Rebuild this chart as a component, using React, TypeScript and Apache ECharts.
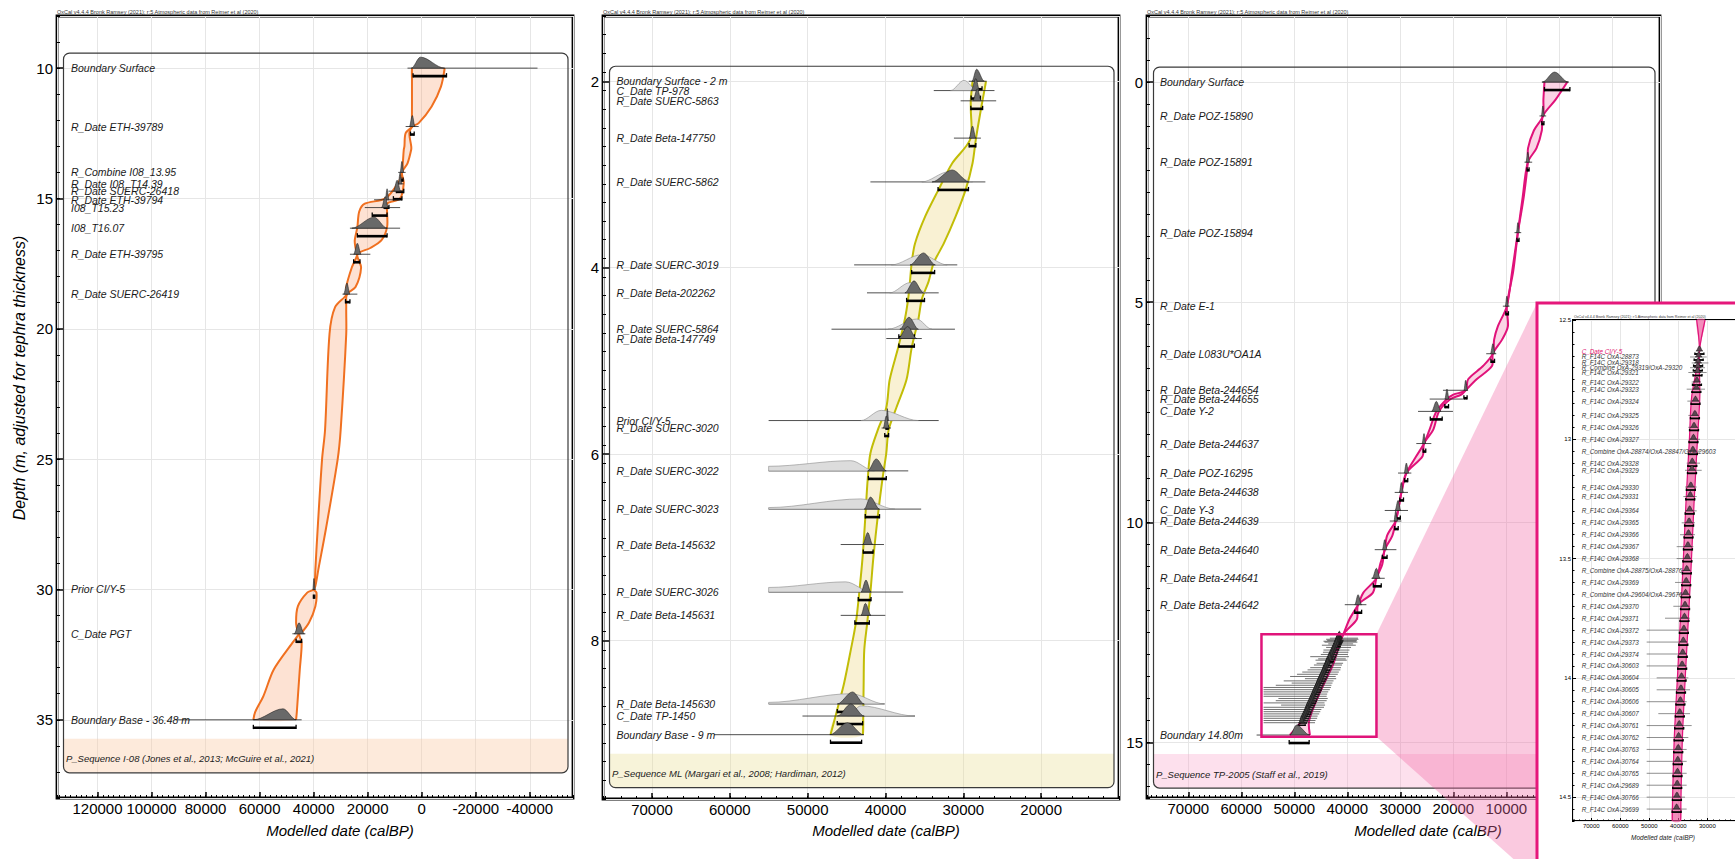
import React, { useEffect, useRef } from "react";
import * as echarts from "echarts";

const FONT = "'Liberation Sans', Arial, Helvetica, sans-serif";
const HEADER = "OxCal v4.4.4 Bronk Ramsey (2021); r:5 Atmospheric data from Reimer et al (2020)";
const X_TITLE = "Modelled date (calBP)";
const Y_TITLE = "Depth (m, adjusted for tephra thickness)";
const SEQ_NAMES = [
  "P_Sequence I-08 (Jones et al., 2013; McGuire et al., 2021)",
  "P_Sequence ML (Margari et al., 2008; Hardiman, 2012)",
  "P_Sequence TP-2005 (Staff et al., 2019)",
];

// ---------- axis ranges / tick steps ----------
const P1_X = [-56000, 135000];
const P1_Y = [8, 38];
const P2_X = [10000, 76300];
const P2_Y = [1.3, 9.7];
const P3_X = [-19000, 77800];
const P3_Y = [-1.5, 16.26];
const IN_X = [20000, 76300];
const IN_Y = [12.5, 14.6];
const MAJOR_X = [20000, 10000, 10000, 10000];
const MINOR_X = [2000, 2000, 1000, 2000];
const MAJOR_Y = [5, 2, 5, 0.5];
const MINOR_Y = [1, 0.2, 0.5, 0.05];

// ---------- panel 1 : I-08 ----------
const P1_LABELS = ["Boundary Surface", "R_Date ETH-39789", "R_Combine I08_13.95", "R_Date I08_T14.39", "R_Date SUERC-26418", "R_Date ETH-39794", "I08_T15.23", "I08_T16.07", "R_Date ETH-39795", "R_Date SUERC-26419", "Prior CI/Y-5", "C_Date PGT", "Boundary Base - 36.48 m"];
const P1_DEPTHS = [10.0, 12.24, 14.0, 14.44, 14.72, 15.05, 15.35, 16.14, 17.14, 18.67, 30.0, 31.7, 35.0];
const P1_MODE = [444, 3470, 7320, 8000, 9100, 12820, 13500, 17630, 23820, 27670, 39900, 45410, 51320];
const P1_LO = [3882, 4570, 8000, 8700, 10480, 13500, 14880, 25880, 25200, 28910, 40320, 47200, 62320];
const P1_HI = [-8493, 2500, 6640, 7320, 7800, 12130, 12400, 12820, 22440, 26570, 39360, 43480, 46500];
const P1_LINE_LO = [5257, 5945, 8700, 9380, 12300, 17640, 21070, 26570, 26570, 29320, 40320, 47880, 90500];
const P1_LINE_HI = [-42860, 1125, 5945, 6640, 6640, 8000, 8000, 8000, 19010, 23820, 39360, 43070, 44440];
const P1_RANGE_LO = [3200, 4150, 7700, 9380, 10480, 13900, 18320, 23820, 25200, 28220, 40100, 46500, 62320];
const P1_RANGE_HI = [-9180, 2780, 6900, 6640, 7320, 12130, 12820, 12820, 22850, 26570, 39600, 44440, 46500];
const P1_ENV_DEPTH = [10.0, 10.71, 11.47, 12.11, 12.24, 12.49, 13.0, 13.13, 13.65, 14.0, 14.4, 15.0, 15.2, 15.5, 16.1, 16.6, 16.9, 17.14, 17.65, 18.4, 18.67, 19.17, 20.2, 23.88, 25.0, 27.7, 29.23, 29.87, 30.0, 30.12, 30.64, 31.27, 31.65, 31.7, 32.05, 33.07, 34.09, 34.7, 35.0];
const P1_ENV_OLD = [3607, 3607, 3607, 3607, 3470, 5945, 6400, 6640, 7000, 7320, 8700, 13500, 21070, 23130, 23820, 24780, 24500, 23820, 25880, 27940, 27670, 32070, 34130, 35780, 36880, 38530, 39360, 39630, 39900, 42380, 45820, 46510, 45820, 45410, 47880, 54760, 58600, 61630, 62320];
const P1_ENV_YOUNG = [-8493, -7118, -3680, 1132, 3470, 4570, 3880, 3900, 5257, 7320, 6640, 8000, 12820, 12820, 12820, 14880, 19010, 23820, 22440, 24500, 27670, 27940, 27940, 30000, 31100, 35500, 38250, 39360, 39900, 38950, 39360, 41700, 44440, 45410, 44440, 45130, 45820, 46230, 46510];

// ---------- panel 2 : ML ----------
const P2_LABELS = ["Boundary Surface - 2 m", "C_Date TP-978", "R_Date SUERC-5863", "R_Date Beta-147750", "R_Date SUERC-5862", "R_Date SUERC-3019", "R_Date Beta-202262", "R_Date SUERC-5864", "R_Date Beta-147749", "Prior CI/Y-5", "R_Date SUERC-3020", "R_Date SUERC-3022", "R_Date SUERC-3023", "R_Date Beta-145632", "R_Date SUERC-3026", "R_Date Beta-145631", "R_Date Beta-145630", "C_Date TP-1450", "Boundary Base - 9 m"];
const P2_DEPTHS = [2.0, 2.1, 2.21, 2.61, 3.08, 3.97, 4.27, 4.66, 4.76, 5.64, 5.72, 6.18, 6.59, 6.97, 7.48, 7.73, 8.68, 8.81, 9.01];
const P2_MODE = [28300, 28400, 28200, 28820, 31430, 35120, 36340, 36990, 37160, 39770, 39900, 41200, 41940, 42290, 42510, 42590, 44240, 44460, 44890];
const P2_LO = [28900, 29000, 28800, 29260, 34030, 36860, 37510, 38160, 38380, 39900, 40300, 42290, 42730, 42940, 43160, 43160, 46200, 46200, 47150];
const P2_HI = [27300, 27900, 27700, 28390, 29260, 33600, 35120, 35770, 35990, 39600, 39500, 39900, 40770, 41640, 41860, 41860, 42730, 42730, 42810];
const P2_LINE_LO = [29300, 33800, 30350, 31210, 41940, 44030, 42380, 46940, 39900, 55020, 40500, 55020, 55020, 45760, 55020, 45760, 55020, 50670, 62050];
const P2_LINE_HI = [27000, 26000, 25780, 27740, 27170, 30780, 33170, 31080, 35340, 33170, 39300, 37080, 35420, 40200, 37730, 40030, 40120, 36210, 42810];
const P2_RANGE_LO = [29000, 29000, 29040, 29260, 33250, 36640, 37290, 38290, 38290, 39950, 40100, 42200, 42600, 42860, 43500, 43940, 46200, 46200, 47070];
const P2_RANGE_HI = [27600, 27800, 27520, 28390, 29340, 33690, 34990, 36290, 36290, 39650, 39600, 39900, 40770, 41600, 41860, 42080, 42940, 42940, 43070];
const P2_PRIOR_LO = [null, 31650, null, null, 35340, 39250, 39460, 39680, null, 43160, null, 55020, 55020, null, 55020, null, 55020, 44890, null];
const P2_PRIOR_PEAK = [null, 29910, null, null, 31860, 35340, 36860, 35990, null, 40550, null, 44460, 43160, null, 45110, null, 44460, 43160, null];
const P2_PRIOR_HI = [null, 28170, null, null, 28820, 32080, 34690, 34040, null, 35770, null, 41420, 38810, null, 41860, null, 40120, 36210, null];
const P2_PRIOR_EDGE = [0, 0, 0, 0, 0, 0, 0, 0, 0, 0, 0, 0.45, 0.15, 0, 0.45, 0, 0.15, 0, 0];
const P2_ENV_DEPTH = [2.0, 2.2, 2.3, 2.62, 2.88, 3.16, 3.45, 3.74, 3.95, 4.15, 4.34, 4.55, 4.86, 5.2, 5.5, 5.74, 5.99, 6.27, 6.67, 7.1, 7.49, 7.81, 8.1, 8.46, 8.74, 9.01];
const P2_ENV_OLD = [28820, 29040, 29040, 29100, 31430, 33170, 34900, 36210, 36640, 36860, 37100, 37510, 38380, 39460, 39900, 40990, 41940, 42290, 42590, 42940, 43380, 43810, 44460, 45330, 46200, 47070];
const P2_ENV_YOUNG = [27090, 27520, 27740, 28390, 28820, 29690, 30990, 32510, 33820, 34470, 35340, 35770, 36640, 37300, 38600, 39595, 39900, 40400, 41000, 41550, 41950, 42350, 42730, 42810, 42850, 42900];

// ---------- panel 3 : TP-2005 ----------
const P3_LABELS = ["Boundary Surface", "R_Date POZ-15890", "R_Date POZ-15891", "R_Date POZ-15894", "R_Date E-1", "R_Date L083U*OA1A", "R_Date Beta-244654", "R_Date Beta-244655", "C_Date Y-2", "R_Date Beta-244637", "R_Date POZ-16295", "R_Date Beta-244638", "C_Date Y-3", "R_Date Beta-244639", "R_Date Beta-244640", "R_Date Beta-244641", "R_Date Beta-244642", "Boundary 14.80m"];
const P3_DEPTHS = [0, 0.77, 1.82, 3.42, 5.09, 6.17, 7.0, 7.2, 7.48, 8.21, 8.88, 9.32, 9.73, 9.97, 10.62, 11.27, 11.87, 14.83];
const P3_MODE = [900, 3100, 5940, 7820, 9900, 12530, 17680, 21200, 23200, 25530, 28860, 29800, 30430, 30870, 32940, 34510, 37970, 49580];
const P3_LO = [3200, 3400, 6300, 8100, 10200, 13000, 18000, 21600, 24100, 25900, 29300, 30200, 31000, 31200, 33400, 35300, 38600, 50840];
const P3_HI = [-1700, 2800, 5600, 7500, 9600, 12100, 17300, 20800, 22300, 25200, 28400, 29400, 29900, 30500, 32500, 33800, 37300, 47070];
const P3_LINE_LO = [3300, 3740, 6570, 8450, 10650, 13790, 21950, 24460, 26660, 26980, 30430, 31060, 32940, 32000, 34830, 35450, 40480, 57120];
const P3_LINE_HI = [-1800, 2480, 5120, 7190, 9390, 11900, 17240, 18180, 20070, 24150, 27920, 28550, 28550, 29800, 30740, 32940, 36400, 47070];
const P3_RANGE_LO = [2800, 3300, 6100, 8000, 10100, 12900, 18000, 21600, 24350, 25700, 29200, 30100, 30900, 31050, 33400, 35100, 38600, 50970];
const P3_RANGE_HI = [-2000, 2900, 5700, 7600, 9600, 12220, 17400, 20900, 22100, 25200, 28600, 29400, 30000, 30400, 32500, 33600, 37300, 47200];
const P3_ENV_DEPTH = [0, 0.4, 0.77, 1.1, 1.5, 1.82, 2.6, 3.42, 4.3, 5.09, 5.55, 5.85, 6.17, 6.45, 6.75, 7.0, 7.1, 7.2, 7.48, 7.9, 8.21, 8.5, 8.88, 9.32, 9.73, 9.97, 10.3, 10.62, 10.95, 11.27, 11.6, 11.87, 12.2, 12.55, 13.2, 13.9, 14.5, 14.83];
const P3_ENV_OLD = [2800, 3000, 3100, 4800, 5900, 5940, 6700, 7820, 8900, 9900, 11600, 12300, 12530, 14400, 17200, 17680, 20000, 21200, 23200, 24500, 25530, 27000, 28860, 29800, 30430, 30870, 32500, 32940, 33800, 34510, 37000, 37970, 39600, 40790, 43500, 46200, 48600, 50840];
const P3_ENV_YOUNG = [-1500, 700, 3100, 3300, 4300, 5940, 6900, 7820, 8700, 9900, 9700, 10800, 12530, 12700, 15600, 17680, 18500, 20500, 22700, 23800, 25530, 25800, 28860, 29800, 30430, 30870, 31500, 32940, 33400, 34510, 35200, 37970, 38200, 40790, 42600, 45300, 47200, 47070];
const P3_ZOOM_X = [56200, 34500];
const P3_ZOOM_Y = [12.54, 14.87];

// ---------- inset : F14C dates (shared depths with panel 3 cluster) ----------
const INSET_LABELS = ["C_Date CI/Y-5", "R_F14C OxA-28873", "R_F14C OxA-29318", "R_Combine OxA-29319/OxA-29320", "R_F14C OxA-29321", "R_F14C OxA-29322", "R_F14C OxA-29323", "R_F14C OxA-29324", "R_F14C OxA-29325", "R_F14C OxA-29326", "R_F14C OxA-29327", "R_Combine OxA-28874/OxA-28847/OxA-29603", "R_F14C OxA-29328", "R_F14C OxA-29329", "R_F14C OxA-29330", "R_F14C OxA-29331", "R_F14C OxA-29364", "R_F14C OxA-29365", "R_F14C OxA-29366", "R_F14C OxA-29367", "R_F14C OxA-29368", "R_Combine OxA-28875/OxA-28876", "R_F14C OxA-29369", "R_Combine OxA-29604/OxA-29676", "R_F14C OxA-29370", "R_F14C OxA-29371", "R_F14C OxA-29372", "R_F14C OxA-29373", "R_F14C OxA-29374", "R_F14C OxA-30603", "R_F14C OxA-30604", "R_F14C OxA-30605", "R_F14C OxA-30606", "R_F14C OxA-30607", "R_F14C OxA-30761", "R_F14C OxA-30762", "R_F14C OxA-30763", "R_F14C OxA-30764", "R_F14C OxA-30765", "R_F14C OxA-29689", "R_F14C OxA-30766", "R_F14C OxA-29699"];
const INSET_DEPTHS = [12.63, 12.655, 12.68, 12.7, 12.72, 12.76, 12.79, 12.84, 12.9, 12.95, 13.0, 13.05, 13.1, 13.13, 13.2, 13.24, 13.3, 13.35, 13.4, 13.45, 13.5, 13.55, 13.6, 13.65, 13.7, 13.75, 13.8, 13.85, 13.9, 13.95, 14.0, 14.05, 14.1, 14.15, 14.2, 14.25, 14.3, 14.35, 14.4, 14.45, 14.5, 14.55];
const INSET_MODE = [32750, 33000, 33200, 33300, 33400, 33600, 33800, 34100, 34300, 34600, 34800, 35000, 35200, 35300, 35700, 35900, 36100, 36300, 36500, 36700, 36900, 37100, 37300, 37500, 37700, 37900, 38100, 38300, 38500, 38700, 38900, 39100, 39300, 39500, 39700, 39900, 40050, 40200, 40300, 40400, 40500, 40600];
const INSET_LINE_LO = [33400, 35980, 35410, 35980, 36560, 35410, 37130, 36900, 36560, 36560, 36210, 37130, 37130, 37700, 37700, 38280, 37700, 38850, 39430, 40580, 40580, 38850, 41150, 40580, 41730, 44600, 50920, 50920, 50920, 50920, 47470, 47470, 50920, 46900, 50920, 50920, 50920, 50920, 50920, 50920, 50920, 50920];
const INSET_LINE_HI = [32100, 30240, 29660, 30810, 30240, 33110, 30810, 32540, 33110, 33110, 32540, 32300, 32540, 31960, 33680, 33680, 33680, 34260, 34260, 34830, 35980, 35980, 35980, 35980, 35980, 35980, 36560, 37130, 37130, 37130, 36560, 35980, 37130, 35980, 35410, 36560, 37130, 37130, 37130, 37130, 37700, 37130];
const INSET_ENV_DEPTH = [12.5, 12.63, 12.82, 13.0, 13.27, 13.56, 13.97, 14.25, 14.51, 14.6];
const INSET_ENV_OLD = [33700, 32800, 35400, 36200, 37400, 38500, 40200, 41400, 42000, 42100];
const INSET_ENV_YOUNG = [30800, 32700, 32600, 33400, 34600, 35700, 37500, 38600, 39100, 39200];
// the same dates as they appear (compressed) inside panel 3's zoom box
const P3C_MODE = [41500, 41600, 41700, 41800, 41900, 42000, 42100, 42300, 42500, 42700, 42900, 43100, 43300, 43400, 43700, 43800, 44000, 44200, 44400, 44500, 44700, 44900, 45100, 45300, 45500, 45600, 45800, 46000, 46200, 46400, 46500, 46700, 46900, 47100, 47300, 47500, 47600, 47800, 48000, 48200, 48400, 48600];
const P3C_LINE_LO = [43300, 44000, 43800, 44500, 44300, 43600, 44800, 44000, 44500, 44600, 45000, 47000, 45500, 46000, 45800, 46300, 47000, 47500, 48500, 49500, 50800, 48000, 52000, 50500, 53500, 55800, 55800, 55800, 55800, 55800, 53000, 53500, 55800, 52500, 55800, 55800, 55800, 55800, 55800, 55800, 55800, 55800];
const P3C_LINE_HI = [38000, 37900, 38200, 38300, 38100, 38900, 38400, 39300, 39600, 39800, 39900, 39700, 40300, 40100, 40800, 41000, 41200, 41300, 41600, 41800, 42200, 42100, 42600, 42800, 43000, 43100, 43300, 43600, 43800, 43900, 43700, 43900, 44300, 44200, 44400, 44900, 45100, 45300, 45600, 45700, 46000, 46100];

// ---------- layout ----------
const GRID_RECTS = [
  { left: 57, top: 16, width: 516, height: 782 },
  { left: 603, top: 16, width: 516, height: 783 },
  { left: 1147, top: 16, width: 513, height: 782 },
  { left: 1573, top: 320, width: 163.4, height: 501 },
];
const INSET_BOX = { x: 1537, y: 303 };

function bell(xl: number, xm: number, xr: number, y0: number, h: number, edge: number) {
  const pts: number[][] = [[xl, y0]];
  const n = 8;
  for (let k = 0; k <= n; k++) {
    const t = k / n;
    const s = t * t * (3 - 2 * t);
    pts.push([xl + (xm - xl) * t, y0 - h * (edge + (1 - edge) * s)]);
  }
  for (let k = 1; k <= n; k++) {
    const t = k / n;
    const s = 1 - t * t * (3 - 2 * t);
    pts.push([xm + (xr - xm) * t, y0 - h * s]);
  }
  return pts;
}

function txt(text: string, font: string, fill: string, align: string, valign: string) {
  return { text, font, fill, align, verticalAlign: valign, textAlign: align, textVerticalAlign: valign };
}

function datesSeries(set: any, st: any, axis: number, z: number) {
  return {
    type: "custom",
    xAxisIndex: axis,
    yAxisIndex: axis,
    z,
    silent: true,
    clip: false,
    data: set.depths.map((d: number, i: number) => [set.modes[i], d, i]),
    renderItem: (params: any, api: any) => {
      const i = api.value(2) as number;
      const d = set.depths[i];
      const X = (v: number) => api.coord([v, d])[0];
      const y0 = api.coord([set.modes[i], d])[1];
      const xm = X(set.modes[i]);
      const ch: any[] = [];
      ch.push({ type: "line", shape: { x1: X(set.lineLo[i]), y1: y0, x2: X(set.lineHi[i]), y2: y0 }, style: { stroke: st.lineColor, lineWidth: st.lineW } });
      if (set.pLo && set.pLo[i] != null) {
        ch.push({
          type: "polygon",
          shape: { points: bell(X(set.pLo[i]), X(set.pPeak[i]), X(set.pHi[i]), y0, st.h * 0.85, set.pEdge[i]) },
          style: { fill: "#dcdcdc", stroke: "#8a8a8a", lineWidth: 0.6 },
        });
      }
      const xl = set.lo ? X(set.lo[i]) : xm - st.halfW;
      const xr = set.hi ? X(set.hi[i]) : xm + st.halfW;
      ch.push({ type: "polygon", shape: { points: bell(xl, xm, xr, y0, st.h, 0) }, style: { fill: st.darkFill, stroke: "#111", lineWidth: 0.5 } });
      if (st.showBracket) {
        const bl = set.rLo ? X(set.rLo[i]) : xm - st.bHalfW;
        const br = set.rHi ? X(set.rHi[i]) : xm + st.bHalfW;
        const yb = y0 + st.bOff;
        ch.push({ type: "line", shape: { x1: bl, y1: yb, x2: br, y2: yb }, style: { stroke: "#000", lineWidth: st.bW } });
        ch.push({ type: "line", shape: { x1: bl, y1: yb - st.capH, x2: bl, y2: yb + st.bW / 2 }, style: { stroke: "#000", lineWidth: 1.3 } });
        ch.push({ type: "line", shape: { x1: br, y1: yb - st.capH, x2: br, y2: yb + st.bW / 2 }, style: { stroke: "#000", lineWidth: 1.3 } });
      }
      if (set.labels) {
        const col = st.accentIndex === i ? st.accentColor : st.labelColor;
        ch.push({ type: "text", x: params.coordSys.x + st.labelDx, y: y0, style: txt(set.labels[i], `italic ${st.labelSize}px ${FONT}`, col, "left", "middle") });
      }
      return { type: "group", children: ch };
    },
  };
}

function envelopeSeries(depths: number[], old: number[], young: number[], fill: string, stroke: string, lw: number, axis: number, z: number) {
  return {
    type: "custom",
    xAxisIndex: axis,
    yAxisIndex: axis,
    z,
    silent: true,
    clip: false,
    data: [[old[0], depths[0]]],
    renderItem: (params: any, api: any) => {
      const a = depths.map((d, k) => api.coord([old[k], d]));
      const b = depths.map((d, k) => api.coord([young[k], d]));
      const poly = a.concat(b.slice().reverse());
      return {
        type: "group",
        children: [
          { type: "polygon", shape: { points: poly, smooth: 0.3 }, style: { fill, stroke: "none" } },
          { type: "polyline", shape: { points: a, smooth: 0.3 }, style: { stroke, lineWidth: lw, fill: "none" } },
          { type: "polyline", shape: { points: b, smooth: 0.3 }, style: { stroke, lineWidth: lw, fill: "none" } },
        ],
      };
    },
  };
}

function boxSeries(first: number, last: number, name: string, band: string, axis: number) {
  return {
    type: "custom",
    xAxisIndex: axis,
    yAxisIndex: axis,
    z: 1,
    silent: true,
    clip: false,
    data: [[0, first]],
    renderItem: (params: any, api: any) => {
      const cs = params.coordSys;
      const yTop = api.coord([0, first])[1] - 15;
      const yBot = api.coord([0, last])[1] + 53;
      const xL = cs.x + 6.5;
      const xR = cs.x + cs.width - 5;
      return {
        type: "group",
        children: [
          { type: "rect", shape: { x: xL, y: yBot - 34, width: xR - xL, height: 34, r: [0, 0, 6, 6] }, style: { fill: band } },
          { type: "rect", shape: { x: xL, y: yTop, width: xR - xL, height: yBot - yTop, r: 6 }, style: { fill: "none", stroke: "#3a3a3a", lineWidth: 1.2 } },
          { type: "text", x: xL + 2.5, y: yBot - 14, style: txt(name, `italic 9.5px ${FONT}`, "#222", "left", "middle") },
        ],
      };
    },
  };
}

function zoomSeries(axis: number) {
  return {
    type: "custom",
    xAxisIndex: axis,
    yAxisIndex: axis,
    z: 10,
    silent: true,
    clip: false,
    data: [[P3_ZOOM_X[0], P3_ZOOM_Y[0]]],
    renderItem: (params: any, api: any) => {
      const a = api.coord([P3_ZOOM_X[0], P3_ZOOM_Y[0]]);
      const b = api.coord([P3_ZOOM_X[1], P3_ZOOM_Y[1]]);
      return {
        type: "group",
        children: [
          { type: "polygon", shape: { points: [[b[0], a[1]], [INSET_BOX.x, INSET_BOX.y], [INSET_BOX.x, 858], [INSET_BOX.x, 880], [b[0], b[1]]] }, style: { fill: "rgba(240,105,165,0.36)" } },
          { type: "rect", shape: { x: a[0], y: a[1], width: b[0] - a[0], height: b[1] - a[1] }, style: { fill: "none", stroke: "#e0147a", lineWidth: 2.5 } },
        ],
      };
    },
  };
}

function majorAxis(dim: string, g: number, range: number[], step: number, o: any) {
  return {
    type: "value",
    gridIndex: g,
    min: range[0],
    max: range[1],
    inverse: true,
    position: dim === "x" ? "bottom" : "left",
    minInterval: step,
    maxInterval: step,
    splitNumber: 10,
    z: o.z,
    axisLine: { show: false, onZero: false },
    axisTick: { show: true, inside: true, length: o.tickLen, lineStyle: { color: "#000", width: o.tickW } },
    minorTick: { show: false },
    axisLabel: {
      show: true,
      margin: o.margin,
      fontSize: o.font,
      color: "#000",
      fontFamily: FONT,
      showMinLabel: !!o.showMin,
      showMaxLabel: false,
      formatter: (v: number) => String(v),
    },
    splitLine: { show: true, lineStyle: { color: "#e6e6e6", width: 1 } },
  };
}

function minorAxis(dim: string, g: number, range: number[], step: number, len: number, z: number) {
  return {
    type: "value",
    gridIndex: g,
    min: range[0],
    max: range[1],
    inverse: true,
    interval: step,
    position: dim === "x" ? "bottom" : "left",
    z,
    axisLine: { show: false, onZero: false },
    axisLabel: { show: false },
    splitLine: { show: false },
    axisTick: { show: true, inside: true, length: len, lineStyle: { color: "#000", width: 1 } },
  };
}

function buildOption() {
  const XR = [P1_X, P2_X, P3_X, IN_X];
  const YR = [P1_Y, P2_Y, P3_Y, IN_Y];
  const main = { z: 0, tickLen: 6, tickW: 1.5, margin: 4, font: 15 };
  const ins = { z: 22, tickLen: 3, tickW: 1, margin: 2, font: 6 };
  const xAxis: any[] = [];
  const yAxis: any[] = [];
  for (let g = 0; g < 4; g++) {
    const o = g === 3 ? ins : main;
    xAxis.push(majorAxis("x", g, XR[g], MAJOR_X[g], { ...o, margin: g === 3 ? 2 : 3 }));
    yAxis.push(majorAxis("y", g, YR[g], MAJOR_Y[g], { ...o, showMin: g === 3 }));
  }
  for (let g = 0; g < 4; g++) {
    xAxis.push(minorAxis("x", g, XR[g], MINOR_X[g], g === 3 ? 1.5 : 3, g === 3 ? 22 : 0));
    yAxis.push(minorAxis("y", g, YR[g], MINOR_Y[g], g === 3 ? 1.5 : 3, g === 3 ? 22 : 0));
  }

  const mainStyle = { h: 11, halfW: 3, bOff: 8, bHalfW: 4, bW: 2.6, capH: 3, labelDx: 14, labelSize: 10.5, labelColor: "#1a1a1a", darkFill: "#696969", lineColor: "#222", lineW: 0.8, showBracket: true };

  const series: any[] = [
    boxSeries(P1_DEPTHS[0], P1_DEPTHS[P1_DEPTHS.length - 1], SEQ_NAMES[0], "rgba(250,205,170,0.42)", 0),
    envelopeSeries(P1_ENV_DEPTH, P1_ENV_OLD, P1_ENV_YOUNG, "rgba(247,160,110,0.3)", "#f07020", 2, 0, 2),
    datesSeries(
      { labels: P1_LABELS, depths: P1_DEPTHS, modes: P1_MODE, lo: P1_LO, hi: P1_HI, lineLo: P1_LINE_LO, lineHi: P1_LINE_HI, rLo: P1_RANGE_LO, rHi: P1_RANGE_HI },
      mainStyle, 0, 3
    ),
    boxSeries(P2_DEPTHS[0], P2_DEPTHS[P2_DEPTHS.length - 1], SEQ_NAMES[1], "rgba(232,222,150,0.36)", 1),
    envelopeSeries(P2_ENV_DEPTH, P2_ENV_OLD, P2_ENV_YOUNG, "rgba(236,214,120,0.33)", "#c2bd06", 2, 1, 2),
    datesSeries(
      { labels: P2_LABELS, depths: P2_DEPTHS, modes: P2_MODE, lo: P2_LO, hi: P2_HI, lineLo: P2_LINE_LO, lineHi: P2_LINE_HI, rLo: P2_RANGE_LO, rHi: P2_RANGE_HI, pLo: P2_PRIOR_LO, pPeak: P2_PRIOR_PEAK, pHi: P2_PRIOR_HI, pEdge: P2_PRIOR_EDGE },
      { ...mainStyle, h: 12, labelDx: 13.5 }, 1, 3
    ),
    boxSeries(P3_DEPTHS[0], P3_DEPTHS[P3_DEPTHS.length - 1], SEQ_NAMES[2], "rgba(248,160,200,0.32)", 2),
    envelopeSeries(P3_ENV_DEPTH, P3_ENV_OLD, P3_ENV_YOUNG, "rgba(240,100,160,0.28)", "#e0127a", 2, 2, 2),
    datesSeries(
      { depths: INSET_DEPTHS, modes: P3C_MODE, lineLo: P3C_LINE_LO, lineHi: P3C_LINE_HI },
      { ...mainStyle, h: 7, halfW: 3, bOff: 2.5, bHalfW: 3.5, bW: 1.5, capH: 1, darkFill: "#3c3c3c", lineColor: "#333", lineW: 0.7 }, 2, 3
    ),
    datesSeries(
      { labels: P3_LABELS, depths: P3_DEPTHS, modes: P3_MODE, lo: P3_LO, hi: P3_HI, lineLo: P3_LINE_LO, lineHi: P3_LINE_HI, rLo: P3_RANGE_LO, rHi: P3_RANGE_HI },
      { ...mainStyle, h: 10, labelDx: 13 }, 2, 4
    ),
    zoomSeries(2),
    envelopeSeries(INSET_ENV_DEPTH, INSET_ENV_OLD, INSET_ENV_YOUNG, "rgba(236,80,150,0.65)", "#e0127a", 1.2, 3, 23),
    datesSeries(
      { labels: INSET_LABELS, depths: INSET_DEPTHS, modes: INSET_MODE, lineLo: INSET_LINE_LO, lineHi: INSET_LINE_HI },
      { h: 5, halfW: 3.5, bOff: 3, bHalfW: 4.5, bW: 1.8, capH: 1.5, labelDx: 8.7, labelSize: 6.3, labelColor: "#333", accentIndex: 0, accentColor: "#e0126e", darkFill: "#5c4652", lineColor: "#444", lineW: 0.6, showBracket: true },
      3, 24
    ),
  ];

  const headerFont = `5.5px ${FONT}`;
  const graphics: any[] = [
    { type: "text", x: GRID_RECTS[0].left, y: 15, z: 5, style: txt(HEADER, headerFont, "#333", "left", "bottom") },
    { type: "text", x: GRID_RECTS[1].left, y: 15, z: 5, style: txt(HEADER, headerFont, "#333", "left", "bottom") },
    { type: "text", x: GRID_RECTS[2].left, y: 15, z: 5, style: txt(HEADER, headerFont, "#333", "left", "bottom") },
    { type: "text", x: 19, y: 378, rotation: Math.PI / 2, z: 5, style: txt(Y_TITLE, `italic 16px ${FONT}`, "#000", "center", "middle") },
    { type: "text", x: 340, y: 830, z: 5, style: txt(X_TITLE, `italic 15px ${FONT}`, "#000", "center", "middle") },
    { type: "text", x: 886, y: 830, z: 5, style: txt(X_TITLE, `italic 15px ${FONT}`, "#000", "center", "middle") },
    { type: "text", x: 1428, y: 830, z: 5, style: txt(X_TITLE, `italic 15px ${FONT}`, "#000", "center", "middle") },
    { type: "rect", z: 20, shape: { x: INSET_BOX.x, y: INSET_BOX.y, width: 220, height: 580 }, style: { fill: "#ffffff", stroke: "#e5177b", lineWidth: 3 } },
    { type: "text", x: GRID_RECTS[3].left + 1, y: 319, z: 25, style: txt(HEADER, `3.6px ${FONT}`, "#333", "left", "bottom") },
    { type: "text", x: 1663, y: 837, z: 25, style: txt(X_TITLE, `italic 6.5px ${FONT}`, "#222", "center", "middle") },
  ];

  return {
    animation: false,
    backgroundColor: "#ffffff",
    grid: GRID_RECTS.map((g, k) => ({
      ...g,
      show: true,
      borderColor: "#000",
      borderWidth: k === 3 ? 2 : 2.8,
      backgroundColor: "transparent",
      containLabel: false,
      outerBoundsMode: "none",
      z: k === 3 ? 21 : 0,
    })),
    xAxis,
    yAxis,
    series,
    graphic: { elements: graphics },
  };
}

export default function App() {
  const ref = useRef<HTMLDivElement>(null);
  useEffect(() => {
    if (!ref.current) return;
    const chart = echarts.init(ref.current, null, { renderer: "svg" });
    chart.setOption(buildOption() as any);
    return () => chart.dispose();
  }, []);
  return <div ref={ref} style={{ position: "absolute", left: 0, top: 0, width: 1735, height: 859, background: "#fff" }} />;
}
